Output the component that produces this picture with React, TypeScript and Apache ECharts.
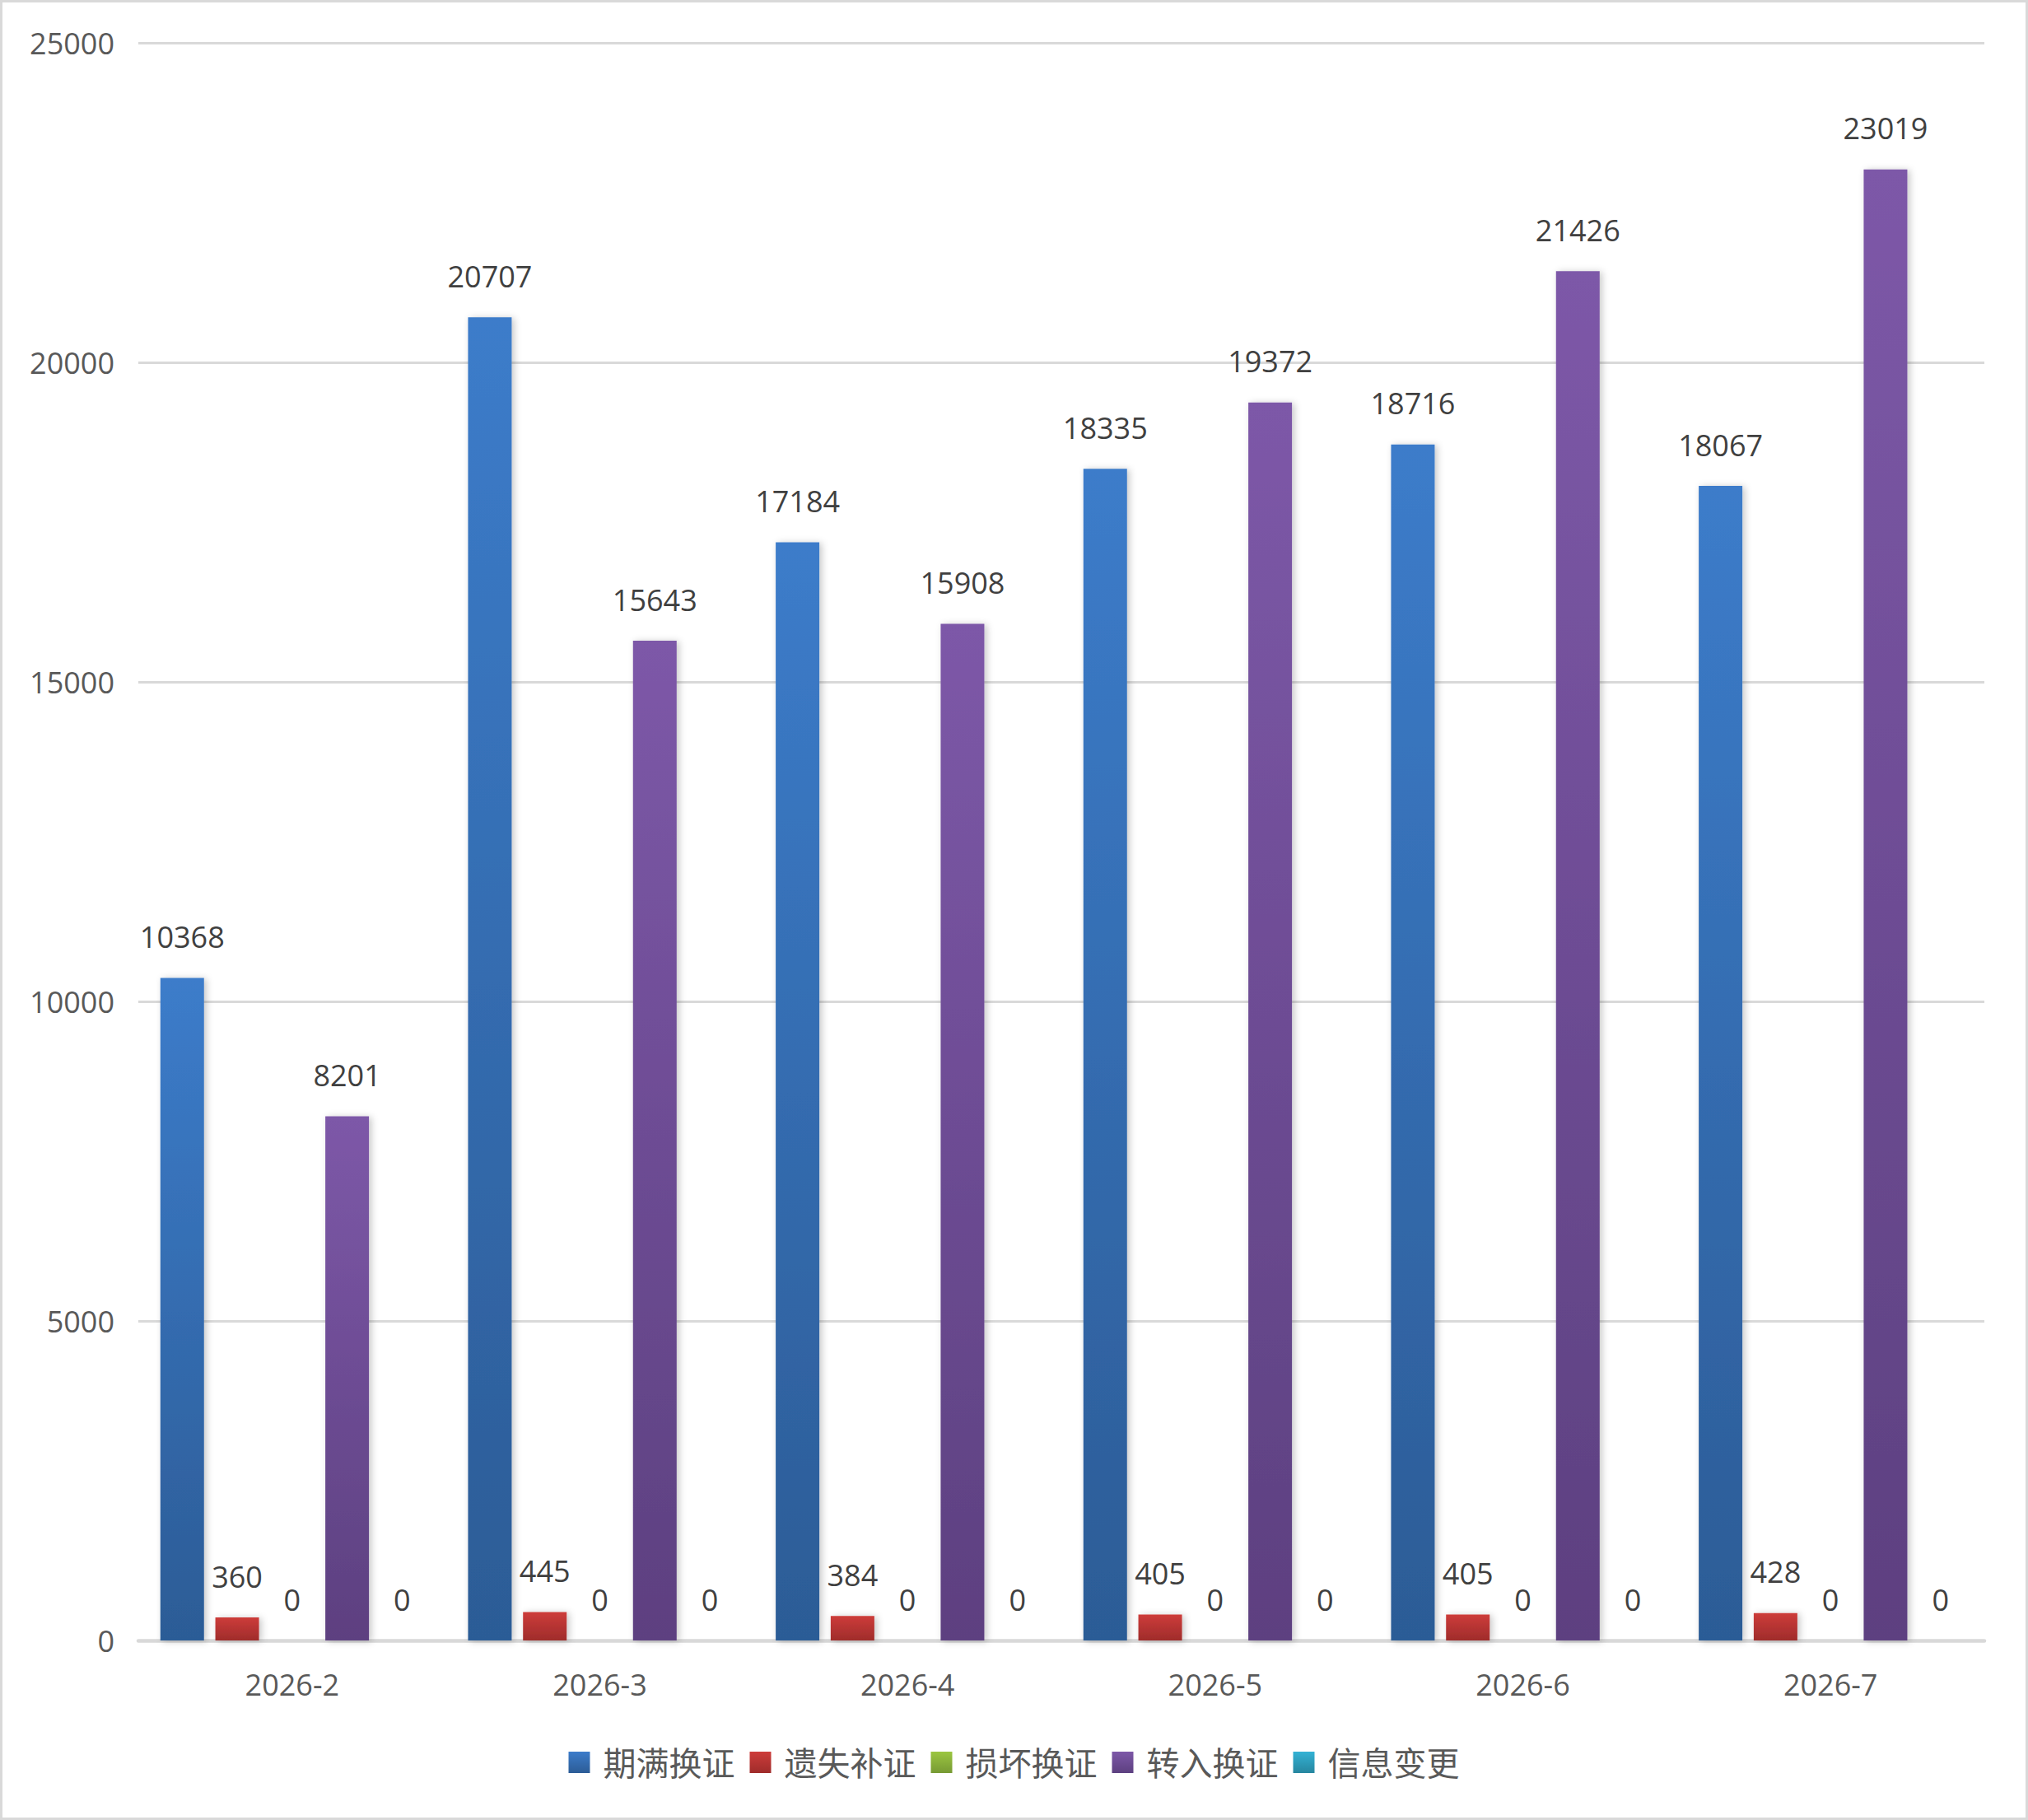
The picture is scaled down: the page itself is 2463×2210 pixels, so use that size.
import * as echarts from 'echarts';
import { useEffect, useRef } from 'react';

const categories = ['2026-2', '2026-3', '2026-4', '2026-5', '2026-6', '2026-7'];
const expiryRenewal = [10368, 20707, 17184, 18335, 18716, 18067];
const lostReissue = [360, 445, 384, 405, 405, 428];
const damagedRenewal = [0, 0, 0, 0, 0, 0];
const transferIn = [8201, 15643, 15908, 19372, 21426, 23019];
const infoChange = [0, 0, 0, 0, 0, 0];
const yTicks = [0, 5000, 10000, 15000, 20000, 25000];

const seriesDefs = [
  { name: '期满换证', data: expiryRenewal, top: '#3c7cca', bottom: '#2c5c96' },
  { name: '遗失补证', data: lostReissue, top: '#cd3c3a', bottom: '#9f2c2b' },
  { name: '损坏换证', data: damagedRenewal, top: '#9bc640', bottom: '#779a33' },
  { name: '转入换证', data: transferIn, top: '#7d58a8', bottom: '#5d4080' },
  { name: '信息变更', data: infoChange, top: '#33b2d5', bottom: '#26869f' }
];

const FONT = '"Open Sans", "Noto Sans CJK SC", sans-serif';
const W = 2463;
const H = 2210;

export default function App() {
  const elRef = useRef<HTMLDivElement | null>(null);

  useEffect(() => {
    document.body.style.margin = '0';
    if (!elRef.current) return;
    const chart = echarts.init(elRef.current, undefined, { renderer: 'svg' });

    chart.setOption({
      animation: false,
      backgroundColor: '#fff',
      textStyle: { fontFamily: FONT },
      graphic: [
        {
          type: 'rect',
          shape: { x: 1.5, y: 1.5, width: W - 3, height: H - 3 },
          style: { fill: 'none', stroke: '#d9d9d9', lineWidth: 3 },
          silent: true
        }
      ],
      legend: {
        top: 2115,
        left: 'center',
        itemWidth: 26,
        itemHeight: 26,
        itemGap: 18,
        icon: 'rect',
        textStyle: { fontSize: 40, color: '#595959', fontFamily: FONT, padding: [0, 0, 0, 11] },
        data: seriesDefs.map((s) => s.name)
      },
      grid: { left: 168, right: 53, top: 52, bottom: 218, containLabel: false },
      xAxis: {
        type: 'category',
        data: categories,
        axisTick: { show: false },
        axisLine: { lineStyle: { color: '#d9d9d9', width: 4.5 } },
        axisLabel: { color: '#595959', fontSize: 36, margin: 35, fontFamily: FONT }
      },
      yAxis: {
        type: 'value',
        min: yTicks[0],
        max: yTicks[yTicks.length - 1],
        interval: yTicks[1] - yTicks[0],
        axisLine: { show: false },
        axisTick: { show: false },
        axisLabel: {
          color: '#595959',
          fontSize: 36,
          margin: 29,
          fontFamily: FONT,
          formatter: (v: number) => String(v)
        },
        splitLine: { lineStyle: { color: '#d9d9d9', width: 3 } }
      },
      series: seriesDefs.map((s) => ({
        type: 'bar',
        name: s.name,
        data: s.data,
        barWidth: 53,
        barGap: '26%',
        itemStyle: {
          color: new echarts.graphic.LinearGradient(0, 0, 0, 1, [
            { offset: 0, color: s.top },
            { offset: 1, color: s.bottom }
          ]),
          shadowColor: 'rgba(0,0,0,0.22)',
          shadowBlur: 8,
          shadowOffsetX: 3,
          shadowOffsetY: 1
        },
        label: {
          show: true,
          position: 'top',
          distance: 32,
          color: '#404040',
          fontSize: 36,
          fontFamily: FONT
        }
      }))
    });

    return () => {
      chart.dispose();
    };
  }, []);

  return <div ref={elRef} style={{ width: W, height: H }} />;
}
